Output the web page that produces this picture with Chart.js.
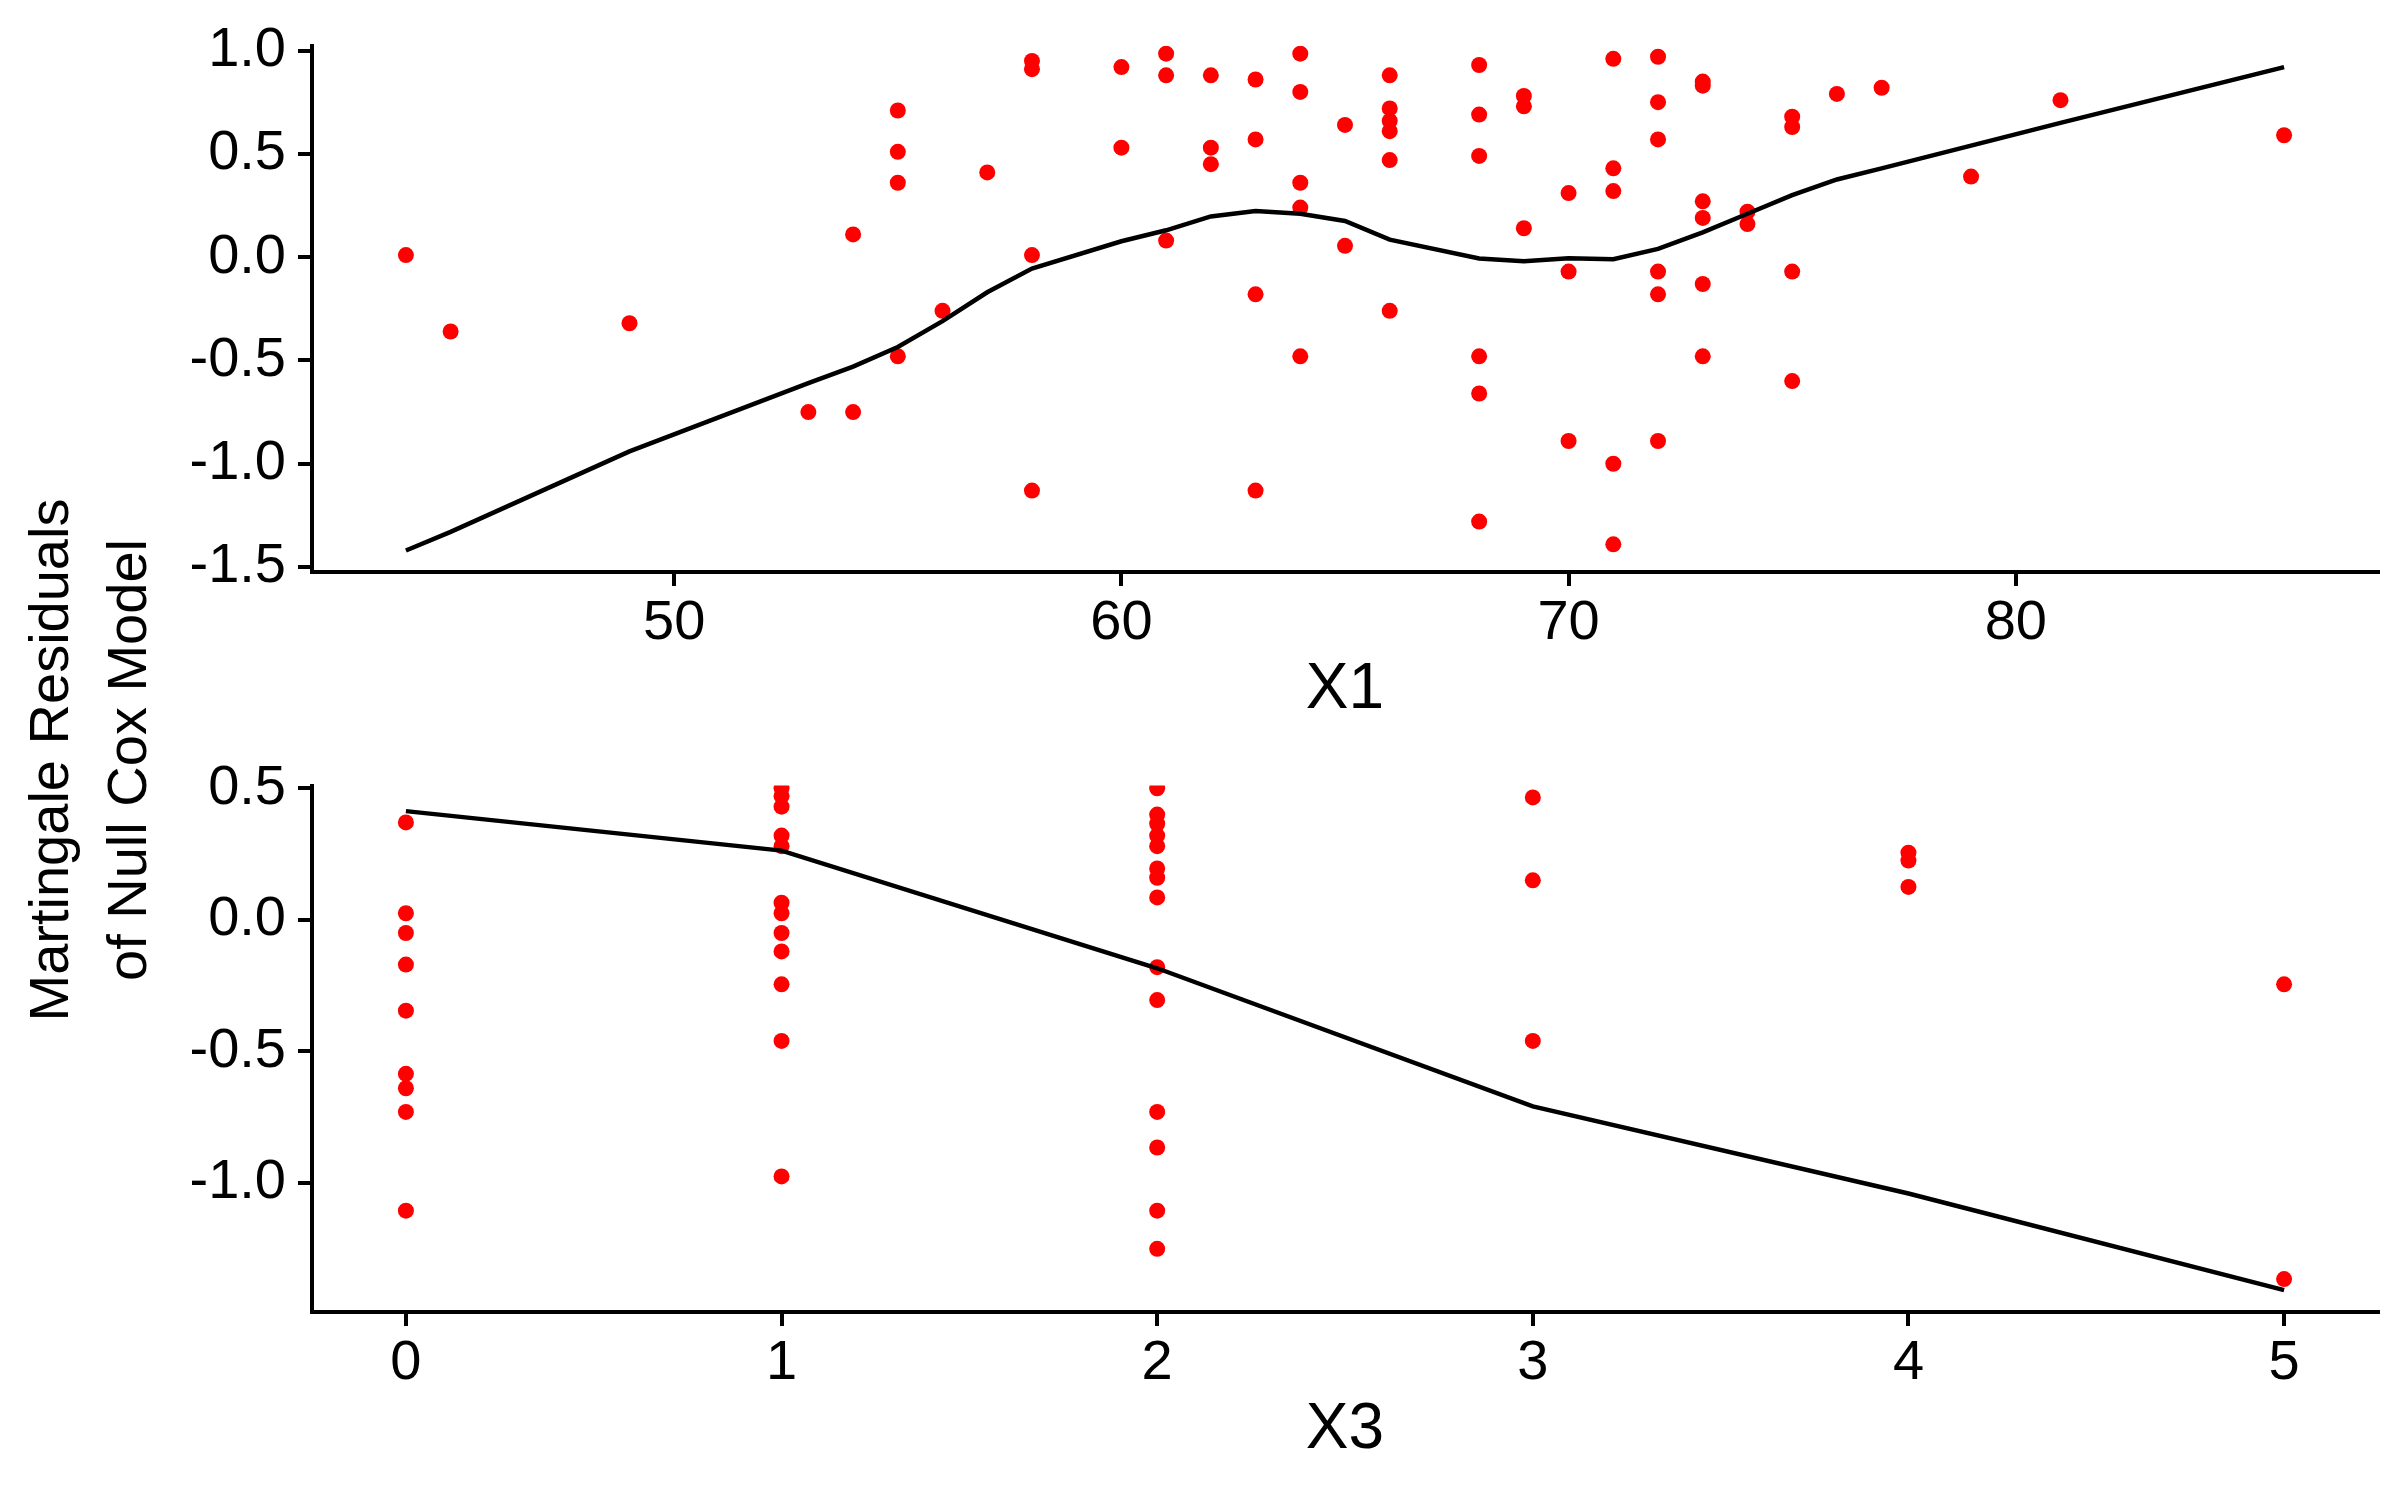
<!DOCTYPE html>
<html>
<head>
<meta charset="utf-8">
<script src="https://cdn.jsdelivr.net/npm/chart.js@4.4.1/dist/chart.umd.min.js"></script>
<style>
  html, body { margin: 0; padding: 0; background: #fff; }
  body { width: 2407px; height: 1492px; position: relative; overflow: hidden; font-family: "Liberation Sans", Arial, sans-serif; }
  .panel { position: absolute; left: 0; width: 2407px; height: 740px; }
  #ytitle { position: absolute; left: -262px; top: 682px; width: 700px; height: 156px; line-height: 78px;
            font-size: 56px; text-align: center; transform: rotate(-90deg); color: #000; white-space: nowrap; }
</style>
</head>
<body>
<div class="panel" style="top:0"><canvas id="panelX1"></canvas></div>
<div class="panel" style="top:740px"><canvas id="panelX3"></canvas></div>
<div id="ytitle">Martingale Residuals<br>of Null Cox Model</div>
<script>
// residuals vs X1
const x1Vals = [44, 45, 49, 53, 54, 54, 55, 55, 55, 55, 56, 57, 58, 58, 58, 58,
  60, 60, 61, 61, 61, 62, 62, 62, 63, 63, 63, 63, 64, 64, 64, 64, 64, 65, 65,
  66, 66, 66, 66, 66, 66, 68, 68, 68, 68, 68, 68, 69, 69, 69, 70, 70, 70,
  71, 71, 71, 71, 71, 72, 72, 72, 72, 72, 72, 73, 73, 73, 73, 73, 73,
  74, 74, 75, 75, 75, 75, 76, 77, 79, 81, 86];
const x1Resid = [0.01, -0.36, -0.32, -0.75, 0.11, -0.75, 0.71, 0.51, 0.36, -0.48, -0.26, 0.41, 0.95, 0.91, 0.01, -1.13,
  0.92, 0.53, 0.985, 0.88, 0.08, 0.88, 0.53, 0.45, 0.86, 0.57, -0.18, -1.13, 0.985, 0.80, 0.36, 0.24, -0.48, 0.64, 0.055,
  0.88, 0.72, 0.66, 0.61, 0.47, -0.26, 0.93, 0.69, 0.49, -0.48, -0.66, -1.28, 0.78, 0.73, 0.14, 0.31, -0.07, -0.89,
  0.96, 0.43, 0.32, -1.00, -1.39, 0.97, 0.75, 0.57, -0.07, -0.18, -0.89, 0.85, 0.83, 0.27, 0.19, -0.13, -0.48,
  0.22, 0.16, 0.68, 0.63, -0.07, -0.60, 0.79, 0.82, 0.39, 0.76, 0.59];
const x1LineX = [44, 45, 49, 53, 54, 55, 56, 57, 58, 60, 61, 62, 63, 64, 65, 66, 68, 69, 70, 71, 72, 73, 74, 75, 76, 77, 79, 81, 86];
const x1LineY = [-1.42, -1.33, -0.94, -0.61, -0.53, -0.435, -0.31, -0.17, -0.055, 0.077, 0.13, 0.197, 0.223, 0.21, 0.175, 0.085,
  -0.006, -0.02, -0.005, -0.01, 0.04, 0.12, 0.21, 0.30, 0.376, 0.43, 0.54, 0.65, 0.92];

// residuals vs X3
const x3Vals = [0, 0, 0, 0, 0, 0, 0, 0, 0,
  1, 1, 1, 1, 1, 1, 1, 1, 1, 1, 1, 1,
  2, 2, 2, 2, 2, 2, 2, 2, 2, 2, 2, 2, 2, 2,
  3, 3, 3, 4, 4, 4, 5, 5];
const x3Resid = [0.37, 0.025, -0.05, -0.17, -0.345, -0.585, -0.64, -0.73, -1.105,
  0.50, 0.47, 0.43, 0.32, 0.28, 0.065, 0.025, -0.05, -0.12, -0.245, -0.46, -0.975,
  0.50, 0.40, 0.365, 0.32, 0.28, 0.195, 0.16, 0.085, -0.18, -0.305, -0.73, -0.865, -1.105, -1.25,
  0.465, 0.15, -0.46, 0.255, 0.225, 0.125, -0.245, -1.365];
const x3LineX = [0, 1, 2, 3, 4, 5];
const x3LineY = [0.413, 0.263, -0.184, -0.709, -1.04, -1.407];

const x1Ticks = [50, 60, 70, 80];
const x3Ticks = [0, 1, 2, 3, 4, 5];
const y1Ticks = [1.0, 0.5, 0.0, -0.5, -1.0, -1.5];
const y3Ticks = [0.5, 0.0, -0.5, -1.0];

const FONT = '"Liberation Sans", Arial, sans-serif';

function toXY(xs, ys) {
  return xs.map((x, i) => ({x: x, y: ys[i]}));
}

function axisBase(ticks, fmt) {
  return {
    type: 'linear',
    border: {display: true, color: '#000', width: 4},
    grid: {display: true, drawOnChartArea: false, drawTicks: true, tickLength: 14, color: '#000', lineWidth: 4},
    ticks: {color: '#000', font: {family: FONT, size: 56}, maxRotation: 0, callback: fmt},
    afterBuildTicks: s => { s.ticks = ticks.map(v => ({value: v})); }
  };
}

function makePanel(id, pts, line, xTitle, xTicks, yTicks, xr, yr) {
  const xAxis = axisBase(xTicks, v => String(v));
  xAxis.min = xr[0]; xAxis.max = xr[1];
  xAxis.ticks.padding = 4;
  xAxis.title = {display: true, text: xTitle, color: '#000', font: {family: FONT, size: 64}, padding: {top: 0, bottom: 11}};
  xAxis.afterFit = s => { s.height = 168; };

  const yAxis = axisBase(yTicks, v => v.toFixed(1));
  yAxis.min = yr[0]; yAxis.max = yr[1];
  yAxis.ticks.padding = 12;
  yAxis.afterFit = s => { s.width = 312; };

  return new Chart(document.getElementById(id), {
    type: 'scatter',
    data: {
      datasets: [
        {
          data: line,
          showLine: true,
          borderColor: '#000',
          borderWidth: 4.5,
          pointRadius: 0,
          fill: false,
          order: 0
        },
        {
          data: pts,
          backgroundColor: '#ff0000',
          borderWidth: 0,
          pointRadius: 8,
          order: 1
        }
      ]
    },
    options: {
      responsive: true,
      maintainAspectRatio: false,
      animation: false,
      layout: {padding: {left: 0, right: 29, top: 41, bottom: 0}},
      plugins: {legend: {display: false}, tooltip: {enabled: false}},
      scales: {x: xAxis, y: yAxis}
    }
  });
}

makePanel('panelX1', toXY(x1Vals, x1Resid), toXY(x1LineX, x1LineY), 'X1', x1Ticks, y1Ticks, [41.9, 88.1], [-1.524, 1.024]);
makePanel('panelX3', toXY(x3Vals, x3Resid), toXY(x3LineX, x3LineY), 'X3', x3Ticks, y3Ticks, [-0.25, 5.25], [-1.49, 0.51]);
</script>
</body>
</html>
